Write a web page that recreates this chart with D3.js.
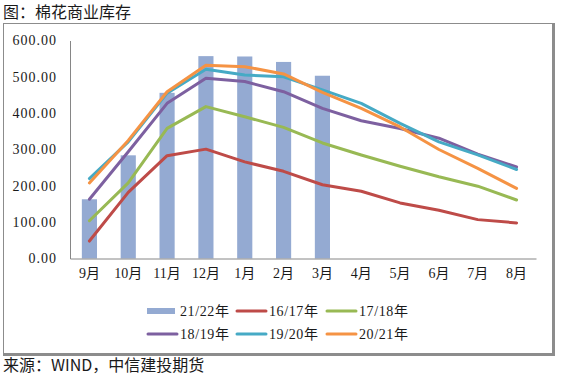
<!doctype html>
<html>
  <head>
    <meta charset="utf-8">
    <script src="https://cdnjs.cloudflare.com/ajax/libs/d3/7.8.5/d3.min.js"></script>
    <style>
      body { margin: 0; background: #fff; }
    </style>
  </head>
  <body>
    <svg style="height: 377px; width: 587px; display: block;"></svg>
    <script>
        var months = ["9月", "10月", "11月", "12月", "1月", "2月", "3月", "4月", "5月", "6月", "7月", "8月"];
        var yTicks = [0, 100, 200, 300, 400, 500, 600];

        // bars: current season, only up to March
        var barName = "21/22年";
        var barValues = [163, 284, 456, 557, 556, 541, 503];

        var names = ["16/17年", "17/18年", "18/19年", "19/20年", "20/21年"];
        var s1617 = [48, 182, 283, 301, 266, 240, 203, 185, 153, 133, 107, 98];
        var s1718 = [104, 208, 358, 418, 390, 361, 318, 285, 254, 225, 199, 161];
        var s1819 = [163, 294, 427, 496, 487, 459, 413, 379, 358, 331, 287, 252];
        var s1920 = [220, 321, 455, 521, 505, 500, 464, 427, 372, 321, 285, 245];
        var s2021 = [208, 325, 459, 532, 528, 508, 457, 413, 362, 300, 248, 193];
        var lineSeries = [s1617, s1718, s1819, s1920, s2021];

        var barColor = "#94aad2";
        var lineColors = ["#be4b48", "#98b954", "#7d60a0", "#46aac5", "#f59344"];

        var SERIF = "'Liberation Serif', 'Noto Sans CJK SC', serif";
        var SANS = "'Noto Sans CJK SC', sans-serif";

        var svg = d3.select("svg");

        // title
        svg.append("text")
            .attr("x", 3).attr("y", 18)
            .style("font-family", SANS).style("font-size", "16px").style("fill", "#1a1a1a")
            .text("图：棉花商业库存");

        // frame with heavier right/bottom edge
        svg.append("rect").attr("x", 3.5).attr("y", 23.5).attr("width", 550).attr("height", 331)
            .style("fill", "none").style("stroke", "#8c8c8c").style("stroke-width", "1px");
        svg.append("rect").attr("x", 552).attr("y", 23).attr("width", 3).attr("height", 333).style("fill", "#8c8c8c");
        svg.append("rect").attr("x", 3).attr("y", 353).attr("width", 552).attr("height", 3).style("fill", "#8c8c8c");

        var xScale = d3.scaleBand().domain(months).range([70, 536]).paddingInner(0.61).paddingOuter(0.305);
        var xMid = d => xScale(d) + xScale.bandwidth() / 2;
        var yScale = d3.scaleLinear().domain([0, 600]).range([258.5, 40.5]);

        // bars
        svg.append("g").selectAll("rect")
            .data(barValues)
            .enter().append("rect")
            .attr("x", (d, i) => xScale(months[i]))
            .attr("width", xScale.bandwidth())
            .attr("y", d => yScale(d))
            .attr("height", d => yScale(0) - yScale(d))
            .style("fill", barColor);

        // axes
        var yAxis = d3.axisLeft(yScale).tickValues(yTicks).tickSize(0).tickPadding(13)
            .tickFormat(d3.format(".2f"));
        var yG = svg.append("g").attr("transform", "translate(70,0)").call(yAxis);
        yG.select(".domain").style("stroke", "#868686");
        yG.selectAll("text").style("font-family", SERIF).style("font-size", "14px")
            .style("letter-spacing", "1px").style("fill", "#1a1a1a");

        var xAxis = d3.axisBottom(xScale).tickSize(0).tickPadding(10);
        var xG = svg.append("g").attr("transform", "translate(0,258.5)").call(xAxis);
        xG.select(".domain").style("stroke", "#868686");
        xG.selectAll("text").style("font-family", SERIF).style("font-size", "14px").style("fill", "#1a1a1a");

        // lines
        var line = d3.line().x((d, i) => xMid(months[i])).y(d => yScale(d));
        lineSeries.forEach(function (s, k) {
            svg.append("path")
                .attr("d", line(s))
                .style("fill", "none")
                .style("stroke", lineColors[k])
                .style("stroke-width", "3px")
                .style("stroke-linejoin", "round")
                .style("stroke-linecap", "round");
        });

        // legend
        var legendItems = [{name: barName, color: barColor, bar: true}]
            .concat(names.map((n, k) => ({name: n, color: lineColors[k], bar: false})));
        var colX = [146, 235, 325];
        var rowY = [311, 334];
        legendItems.forEach(function (it, i) {
            var x = colX[i % 3], y = rowY[Math.floor(i / 3)];
            if (it.bar) {
                svg.append("rect").attr("x", x + 1).attr("y", y - 3).attr("width", 28).attr("height", 6)
                    .style("fill", it.color);
            } else {
                svg.append("line").attr("x1", x + 2).attr("x2", x + 31).attr("y1", y).attr("y2", y)
                    .style("stroke", it.color).style("stroke-width", "3px").style("stroke-linecap", "round");
            }
            svg.append("text")
                .attr("x", x + 34).attr("y", y).attr("dy", "0.36em")
                .style("font-family", SERIF).style("font-size", "14px")
                .style("letter-spacing", "0.6px").style("fill", "#1a1a1a")
                .text(it.name);
        });

        // source
        svg.append("text")
            .attr("x", 3).attr("y", 371)
            .style("font-family", SANS).style("font-size", "16px").style("fill", "#1a1a1a")
            .text("来源：WIND，中信建投期货");
    </script>
  </body>
</html>
